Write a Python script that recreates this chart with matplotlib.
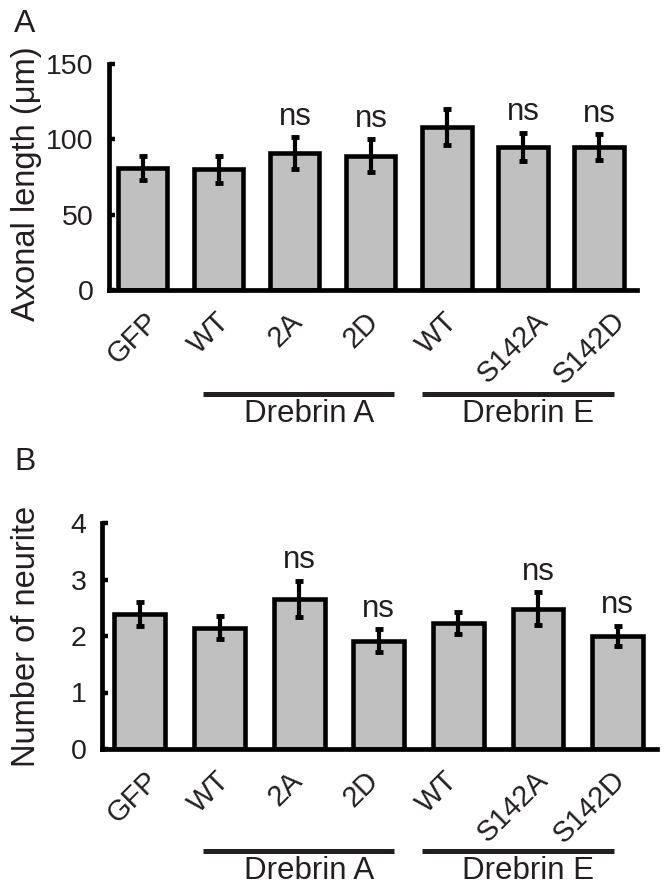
import matplotlib
matplotlib.use("Agg")
import matplotlib.pyplot as plt
import matplotlib.transforms as mtransforms
from matplotlib.lines import Line2D

plt.rcParams['font.family'] = ['Liberation Sans', 'DejaVu Sans']

categories = ["GFP", "WT", "2A", "2D", "WT", "S142A", "S142D"]
axon_mean = [81, 80, 91, 89, 108, 95, 95]
axon_err = [8, 9, 10.5, 11, 12, 9.5, 8.5]
axon_ns = [False, False, True, True, False, True, True]
neurite_mean = [2.39, 2.15, 2.66, 1.92, 2.23, 2.48, 2.00]
neurite_err = [0.21, 0.20, 0.32, 0.20, 0.20, 0.29, 0.18]
neurite_ns = [False, False, True, True, False, True, True]
groups = ["Drebrin A", "Drebrin E"]

W, H = 664, 889
fig = plt.figure(figsize=(W / 100, H / 100), dpi=100)

def fx(px):
    return px / W

def fy(py):
    return 1 - py / H

TXT = '#231f20'
GRAY = '#c0c0c0'

axA = fig.add_axes([fx(109), fy(290), fx(637) - fx(109), fy(64) - fy(290)])
axB = fig.add_axes([fx(102), fy(749), fx(657) - fx(102), fy(523) - fy(749)])

def draw(ax, means, errs, ns, ymax, yticks, xlim, width, ylabel_text, label_y):
    x = list(range(len(means)))
    ax.bar(x, means, width=width, color=GRAY, edgecolor='black', linewidth=3.3, zorder=2)
    ax.errorbar(x, means, yerr=errs, fmt='none', ecolor='black', elinewidth=3,
                capsize=3, capthick=3.5, zorder=3)
    for xi, m, e, s in zip(x, means, errs, ns):
        if s:
            ax.annotate("ns", (xi, m + e), xytext=(0, 9), textcoords='offset points',
                        ha='center', va='baseline', fontsize=22.5, color=TXT)
    ax.set_xlim(*xlim)
    ax.set_ylim(0, ymax)
    ax.set_yticks(yticks)
    ax.set_yticklabels([str(t) for t in yticks], fontsize=20.5, color=TXT)
    ax.tick_params(axis='y', direction='in', length=4, width=3.2, pad=11)
    ax.set_xticks([])
    for side in ['top', 'right']:
        ax.spines[side].set_visible(False)
    for side in ['left', 'bottom']:
        ax.spines[side].set_linewidth(3.4)
        ax.spines[side].set_capstyle('projecting')
    ax.patch.set_alpha(0)
    fig.text(fx(27), fy(label_y), ylabel_text, rotation=90, ha='center', va='center',
             fontsize=23.5, color=TXT)
    # category labels (positioned with panel A category scale, as in the reference)
    trans = mtransforms.blended_transform_factory(axA.transData, ax.transAxes) + \
        mtransforms.ScaledTranslation(-10 / 100, -17 / 100, fig.dpi_scale_trans)
    for xi, c in zip(x, categories):
        ax.text(xi, 0, c, transform=trans, rotation=45, ha='center', va='top',
                fontsize=21, color=TXT, clip_on=False)

draw(axA, axon_mean, axon_err, axon_ns, 150, [0, 50, 100, 150], (-0.447, 6.5), 0.645,
     "Axonal length (\u03bcm)", 184)
draw(axB, neurite_mean, neurite_err, neurite_ns, 4, [0, 1, 2, 3, 4], (-0.477, 6.495), 0.64,
     "Number of neurite", 636)

# group bars
for line_y, text_y in [(394, 414), (851, 871)]:
    for (x0, x1, tx), g in zip([(203, 394, 309), (422, 614, 528)], groups):
        fig.add_artist(Line2D([fx(x0), fx(x1)], [fy(line_y), fy(line_y)],
                              linewidth=3.6, color=TXT, solid_capstyle='butt'))
        fig.text(fx(tx), fy(text_y), g, ha='center', va='center', fontsize=22.5, color=TXT)

fig.text(fx(25), fy(24), "A", ha='center', va='center', fontsize=23, color=TXT)
fig.text(fx(25), fy(462), "B", ha='center', va='center', fontsize=23, color=TXT)

fig.savefig("out.png", dpi=100)
